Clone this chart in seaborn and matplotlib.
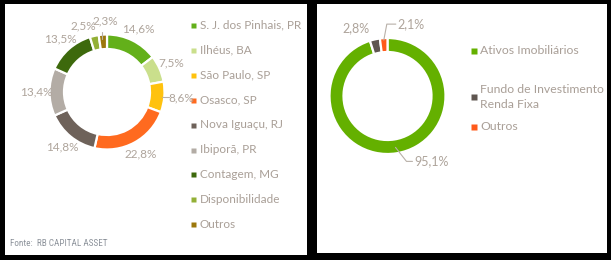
import numpy as np
import matplotlib
matplotlib.use("Agg")
import matplotlib.pyplot as plt
from matplotlib.patches import Rectangle
import seaborn as sns

# ---------------- data ----------------
left_labels = ["S. J. dos Pinhais, PR", "Ilhéus, BA", "São Paulo, SP", "Osasco, SP",
               "Nova Iguaçu, RJ", "Ibiporã, PR", "Contagem, MG", "Disponibilidade", "Outros"]
left_values = [14.6, 7.5, 8.6, 22.8, 14.8, 13.4, 13.5, 2.5, 2.3]
left_colors = ["#63B01A", "#CADF8C", "#FFC20E", "#FF6A1F", "#6E625A",
               "#B3ACA5", "#3D690C", "#93B036", "#9C780C"]

right_labels = ["Ativos Imobiliários", "Fundo de Investimento\nRenda Fixa", "Outros"]
right_values = [95.1, 2.8, 2.1]
right_colors = ["#64B000", "#5F5650", "#FF5A1A"]

source_text = "Fonte:  RB CAPITAL ASSET"

# ---------------- style ----------------
sns.set_theme(style="white")
plt.rcParams["font.family"] = ["Lato", "DejaVu Sans"]
TXT = "#AEA49B"
LEG = "#A99F97"
FW = "normal"

W, H = 611, 260
fig = plt.figure(figsize=(W / 100, H / 100), dpi=100, facecolor="black")
ax = fig.add_axes([0, 0, 1, 1])


def py(y):  # pixel (top-down) -> data y (bottom-up)
    return H - y


def fmt(v):
    return f"{v:.1f}%".replace(".", ",")


# panels
ax.add_patch(Rectangle((5, py(255)), 302, 251, facecolor="white", edgecolor="none", zorder=0))
ax.add_patch(Rectangle((317, py(253)), 290, 249, facecolor="white", edgecolor="none", zorder=0))


def donut(center, R, width, values, colors):
    wedges, _ = ax.pie(values, colors=colors, startangle=90, counterclock=False,
                       center=center, radius=R, frame=True,
                       wedgeprops=dict(width=width, edgecolor="white", linewidth=1.6))
    return wedges


def mid_angle(w):
    return np.deg2rad((w.theta1 + w.theta2) / 2)


# ---- left donut ----
cL = (107, py(92))
RL = 57.5
wl = donut(cL, RL, 14.5, left_values, left_colors)
nudges = {2: (4, 0), 7: (-8, -3), 8: (3, 1)}
for i, (w, v) in enumerate(zip(wl, left_values)):
    a = mid_angle(w)
    r = 1.23 * RL
    dx, dy = nudges.get(i, (0, 0))
    x = cL[0] + r * np.cos(a) + dx
    y = cL[1] + r * np.sin(a) + dy
    ax.text(x, y, fmt(v), ha="center", va="center", color=TXT, fontsize=8.5, fontweight=FW)
# leader lines for small labels
a = mid_angle(wl[2])
ax.plot([cL[0] + RL * np.cos(a) - 2, cL[0] + RL * np.cos(a) + 5],
        [cL[1] + RL * np.sin(a)] * 2, color="#B8B0A8", lw=0.8)
a = mid_angle(wl[8])
ax.plot([cL[0] + RL * np.cos(a) - 0.5] * 2,
        [cL[1] + RL * np.sin(a) - 4, cL[1] + RL * np.sin(a) + 3], color="#B8B0A8", lw=0.8)

# ---- left legend ----
for i, (lab, col) in enumerate(zip(left_labels, left_colors)):
    yy = py(25 + i * 24.9)
    ax.plot(193, yy, marker="s", ms=3.6, color=col, mec="none")
    ax.text(199.5, yy, lab, ha="left", va="center", color=LEG, fontsize=8.5, fontweight=FW)

ax.text(10, py(244), source_text, ha="left", va="center", color="#8D939B",
        fontsize=6.6, family=["Roboto Condensed", "Roboto", "DejaVu Sans"])

# ---- right donut ----
cR = (387.5, py(96))
RR = 58
wr = donut(cR, RR, 14, right_values, right_colors)
# 95,1% with leader
a = mid_angle(wr[0])
p0 = (cR[0] + (RR - 6) * np.cos(a), cR[1] + (RR - 6) * np.sin(a))
p1 = (p0[0] + 11, p0[1] - 14)
ax.plot([p0[0], p1[0], p1[0] + 6], [p0[1], p1[1], p1[1]], color="#B8B0A8", lw=0.8)
ax.text(p1[0] + 8, p1[1], fmt(right_values[0]), ha="left", va="center", color=TXT,
        fontsize=9, fontweight=FW)
# 2,8%
a = mid_angle(wr[1])
ax.text(cR[0] + 1.23 * RR * np.cos(a) - 16, cR[1] + 1.23 * RR * np.sin(a) - 2,
        fmt(right_values[1]), ha="center", va="center", color=TXT, fontsize=9, fontweight=FW)
# 2,1% with leader
a = mid_angle(wr[2])
q0 = (cR[0] + (RR - 2) * np.cos(a), cR[1] + (RR - 2) * np.sin(a))
q1 = (q0[0] + 3, q0[1] + 16)
ax.plot([q0[0], q1[0], q1[0] + 9], [q0[1], q1[1], q1[1]], color="#B8B0A8", lw=0.8)
ax.text(q1[0] + 11, q1[1], fmt(right_values[2]), ha="left", va="center", color=TXT,
        fontsize=9, fontweight=FW)

# ---- right legend ----
ry = [51, 97, 127]
for lab, col, yv in zip(right_labels, right_colors, ry):
    ax.plot(474, py(yv), marker="s", ms=3.8, color=col, mec="none")
    ax.text(480, py(yv), lab, ha="left", va="center", color=LEG, fontsize=8.8,
            linespacing=1.4, fontweight=FW)

ax.set_xlim(0, W)
ax.set_ylim(0, H)
ax.set_aspect("auto")
ax.axis("off")

fig.savefig("out.png", dpi=100, facecolor="black")
